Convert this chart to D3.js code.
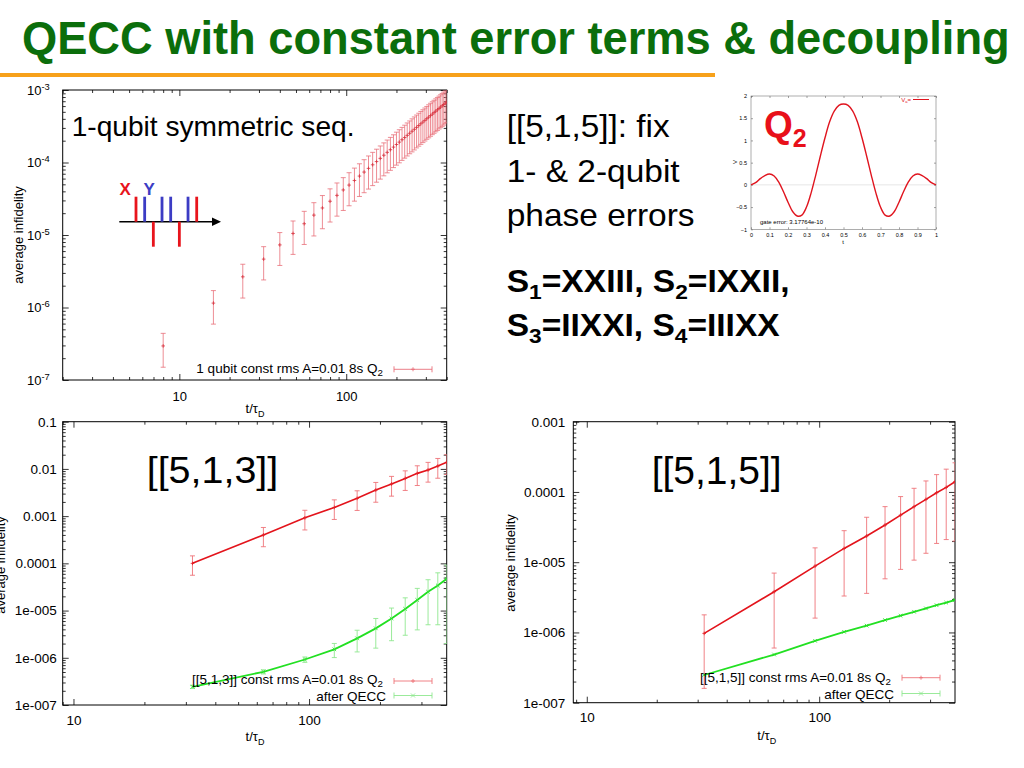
<!DOCTYPE html>
<html><head><meta charset="utf-8">
<script src="https://cdn.jsdelivr.net/npm/d3@7"></script>
<style>
body{margin:0;background:#fff}
svg{display:block}
text{font-family:"Liberation Sans",Arial,Helvetica,sans-serif}
</style>
</head><body>
<svg id="c" width="1024" height="768"></svg>
<script>
// ---------------- DATA ----------------
const titleText = "QECC with constant error terms & decoupling";

// 1-qubit symmetric sequence (top-left)
const tOneQubit = [8,16,24,32,40,48,56,64,72,80,88,96,104,112,120,128,136,144,152,160,168,176,184,192,200,208,216,224,232,240,248,256,264,272,280,288,296,304,312,320,328,336,344,352,360,368,376,384,392,400];
const infOneQubit = [2.95e-7,1.15e-6,2.65e-6,4.65e-6,7.3e-6,1.05e-5,1.43e-5,1.88e-5,2.36e-5,2.92e-5,3.52e-5,4.18e-5,4.88e-5,5.65e-5,6.5e-5,7.38e-5,8.3e-5,9.3e-5,1.03e-4,1.14e-4,1.26e-4,1.38e-4,1.5e-4,1.63e-4,1.77e-4,1.91e-4,2.06e-4,2.21e-4,2.37e-4,2.53e-4,2.7e-4,2.87e-4,3.05e-4,3.23e-4,3.42e-4,3.61e-4,3.81e-4,4.01e-4,4.22e-4,4.43e-4,4.65e-4,4.87e-4,5.1e-4,5.33e-4,5.57e-4,5.81e-4,6.06e-4,6.31e-4,6.57e-4,6.83e-4];
const errOneQubit = [1.45e-7,5.6e-7,1.3e-6,2.25e-6,3.5e-6,5.1e-6,6.9e-6,9.1e-6,1.14e-5,1.41e-5,1.7e-5,2.0e-5,2.35e-5,2.72e-5,3.1e-5,3.55e-5,4.0e-5,4.5e-5,4.95e-5,5.5e-5,6.05e-5,6.6e-5,7.2e-5,7.8e-5,8.5e-5,9.2e-5,9.9e-5,1.06e-4,1.14e-4,1.21e-4,1.3e-4,1.38e-4,1.46e-4,1.55e-4,1.64e-4,1.73e-4,1.83e-4,1.92e-4,2.03e-4,2.13e-4,2.23e-4,2.34e-4,2.45e-4,2.56e-4,2.67e-4,2.79e-4,2.91e-4,3.03e-4,3.15e-4,3.28e-4];

// code times (bottom charts)
const tCode = [32,64,96,128,160,192,224,256,288,320,352,384];
// [[5,1,3]]
const inf513 = [1.0e-4,4.0e-4,9.2e-4,1.53e-3,2.38e-3,3.57e-3,4.8e-3,6.3e-3,8.05e-3,9.5e-3,1.15e-2,1.38e-2];
const err513 = [4.4e-5,1.75e-4,4.1e-4,6.8e-4,1.06e-3,1.6e-3,2.15e-3,2.8e-3,3.6e-3,4.25e-3,5.15e-3,6.2e-3];
const inf513QECC = [2.43e-7,5.05e-7,9.2e-7,1.51e-6,2.58e-6,4.2e-6,6.8e-6,1.08e-5,1.67e-5,2.5e-5,3.4e-5,4.7e-5];
const err513QECC = [2e-8,5e-8,1.2e-7,5e-7,1.25e-6,2.6e-6,4.5e-6,7.8e-6,1.28e-5,2.0e-5,2.9e-5,4.5e-5];
// [[5,1,5]]
const inf515 = [9.7e-7,3.8e-6,8.8e-6,1.57e-5,2.36e-5,3.38e-5,4.69e-5,6.17e-5,7.84e-5,9.75e-5,1.16e-4,1.4e-4];
const err515 = [8.1e-7,3.2e-6,7.2e-6,1.24e-5,2.0e-5,2.8e-5,3.9e-5,5.1e-5,6.5e-5,7.9e-5,9.5e-5,1.2e-4];
const inf515QECC = [2.48e-7,4.85e-7,7.6e-7,1.02e-6,1.25e-6,1.5e-6,1.73e-6,1.97e-6,2.2e-6,2.44e-6,2.66e-6,2.9e-6];

// Q2 pulse shape (inset)
const q2T = [0,0.025,0.05,0.075,0.1,0.125,0.15,0.175,0.2,0.225,0.25,0.275,0.3,0.325,0.35,0.375,0.4,0.425,0.45,0.475,0.5,0.525,0.55,0.575,0.6,0.625,0.65,0.675,0.7,0.725,0.75,0.775,0.8,0.825,0.85,0.875,0.9,0.925,0.95,0.975,1];
const q2V = [0,0.05,0.14,0.21,0.245,0.2,0.06,-0.15,-0.39,-0.6,-0.7,-0.68,-0.5,-0.18,0.22,0.65,1.06,1.42,1.66,1.79,1.82,1.79,1.66,1.42,1.06,0.65,0.22,-0.18,-0.5,-0.68,-0.7,-0.6,-0.39,-0.15,0.06,0.2,0.245,0.21,0.14,0.05,0];
const q2XTicks = [0,0.1,0.2,0.3,0.4,0.5,0.6,0.7,0.8,0.9,1];
const q2YTicks = [-1,-0.5,0,0.5,1,1.5,2];

// decoupling sequence sketch: pulse type and direction
const pulseSeq = [["X",1],["Y",1],["X",-1],["Y",1],["Y",1],["X",-1],["Y",1],["X",1]];

// tick labels
const topYTicks = [1e-7,1e-6,1e-5,1e-4,1e-3];
const topYExp = ["-7","-6","-5","-4","-3"];
const blYTicks = [1e-7,1e-6,1e-5,1e-4,1e-3,1e-2,1e-1];
const blYLabels = ["1e-007","1e-006","1e-005","0.0001","0.001","0.01","0.1"];
const brYTicks = [1e-7,1e-6,1e-5,1e-4,1e-3];
const brYLabels = ["1e-007","1e-006","1e-005","0.0001","0.001"];
const xTickVals = [10,100];
const xTickLabels = ["10","100"];

// ---------------- DRAW ----------------
const svg = d3.select("#c");
svg.append("rect").attr("width",1024).attr("height",768).attr("fill","#fff");
const defs = svg.append("defs");

const RED = "#e3141c", REDERR = "#ee7479", GREEN = "#22e022", GREENERR = "#90e890";

function fitWidth(sel, x0, target) {
  const n = sel.node();
  const w = n.getComputedTextLength();
  const s = target / w;
  sel.attr("transform", `translate(${x0},0) scale(${s},1) translate(${-x0},0)`);
}

// Title
const title = svg.append("text").attr("x",22).attr("y",54).attr("font-size",46)
  .attr("font-weight","bold").attr("fill","#0b6e0b").text(titleText);
fitWidth(title, 22, 988);
svg.append("rect").attr("x",0).attr("y",73).attr("width",715).attr("height",4).attr("fill","#f7a11a");

function minorTicks(domain) {
  const out = [];
  const a = Math.floor(Math.log10(domain[0])), b = Math.ceil(Math.log10(domain[1]));
  for (let n = a; n <= b; n++) for (let k = 2; k <= 9; k++) {
    const v = k * Math.pow(10, n);
    if (v >= domain[0]*0.999 && v <= domain[1]*1.001) out.push(v);
  }
  return out;
}

function logChart(cfg) {
  const g = svg.append("g");
  const x = d3.scaleLog().domain(cfg.xDomain).range([cfg.x0, cfg.x1]);
  const y = d3.scaleLog().domain(cfg.yDomain).range([cfg.y1, cfg.y0]);
  const clipId = "clip" + cfg.id;
  defs.append("clipPath").attr("id", clipId).append("rect")
    .attr("x", cfg.x0).attr("y", cfg.y0).attr("width", cfg.x1 - cfg.x0).attr("height", cfg.y1 - cfg.y0);

  const mx = minorTicks(cfg.xDomain), my = minorTicks(cfg.yDomain);
  const style = s => s.attr("font-family","Liberation Sans, Arial, sans-serif").attr("font-size", cfg.tickFont)
    .call(a => a.select(".domain").remove()).call(a => a.selectAll("line").attr("stroke","#000").attr("stroke-width",0.8));
  // left
  const yMajor = g.append("g").attr("transform",`translate(${cfg.x0},0)`)
    .call(d3.axisLeft(y).tickValues(cfg.yTicks).tickSize(-6).tickPadding(cfg.yPad)
      .tickFormat((d,i) => cfg.yLabels[i])).call(style);
  g.append("g").attr("transform",`translate(${cfg.x0},0)`)
    .call(d3.axisLeft(y).tickValues(my).tickSize(-3).tickFormat("")).call(style);
  // right
  g.append("g").attr("transform",`translate(${cfg.x1},0)`)
    .call(d3.axisRight(y).tickValues(cfg.yTicks).tickSize(-6).tickFormat("")).call(style);
  g.append("g").attr("transform",`translate(${cfg.x1},0)`)
    .call(d3.axisRight(y).tickValues(my).tickSize(-3).tickFormat("")).call(style);
  // bottom
  g.append("g").attr("transform",`translate(0,${cfg.y1})`)
    .call(d3.axisBottom(x).tickValues(xTickVals).tickSize(-6).tickPadding(cfg.xPad)
      .tickFormat((d,i) => xTickLabels[i])).call(style);
  g.append("g").attr("transform",`translate(0,${cfg.y1})`)
    .call(d3.axisBottom(x).tickValues(mx).tickSize(-3).tickFormat("")).call(style);
  // top
  g.append("g").attr("transform",`translate(0,${cfg.y0})`)
    .call(d3.axisTop(x).tickValues(xTickVals).tickSize(-6).tickFormat("")).call(style);
  g.append("g").attr("transform",`translate(0,${cfg.y0})`)
    .call(d3.axisTop(x).tickValues(mx).tickSize(-3).tickFormat("")).call(style);

  if (cfg.supLabels) {
    yMajor.selectAll("g.tick text").each(function(d) {
      const t = d3.select(this); const txt = t.text(); if (!txt) return;
      t.text(null);
      t.append("tspan").text("10");
      t.append("tspan").attr("dy", -5).attr("font-size", cfg.tickFont*0.72).text(txt);
    });
  }

  g.append("rect").attr("x",cfg.x0).attr("y",cfg.y0).attr("width",cfg.x1-cfg.x0).attr("height",cfg.y1-cfg.y0)
    .attr("fill","none").attr("stroke","#000").attr("stroke-width",1);

  // axis titles
  const xl = g.append("text").attr("x", cfg.xLabelX).attr("y", cfg.xLabelY).attr("text-anchor","middle")
    .attr("font-size", 13);
  xl.append("tspan").text("t/τ");
  xl.append("tspan").attr("dy",4).attr("font-size",9).text("D");
  g.append("text").attr("transform",`translate(${cfg.yLabelX},${cfg.yLabelY}) rotate(-90)`)
    .attr("text-anchor","middle").attr("font-size",13).text("average infidelity");

  const cg = g.append("g").attr("clip-path", `url(#${clipId})`);
  const ymin = cfg.yDomain[0] * 0.1;
  cfg.series.forEach(s => {
    const pts = s.t.map((t,i) => ({t, v: s.v[i], e: s.e ? s.e[i] : 0}));
    if (s.line) {
      cg.append("path").datum(pts)
        .attr("d", d3.line().x(d => x(d.t)).y(d => y(d.v)))
        .attr("fill","none").attr("stroke", s.color).attr("stroke-width", s.lw);
    }
    if (s.e) {
      const eb = cg.append("g").attr("stroke", s.errColor).attr("stroke-width", s.ew);
      pts.forEach(d => {
        const lo = Math.max(d.v - d.e, ymin), hi = d.v + d.e;
        const xx = x(d.t);
        eb.append("line").attr("x1",xx).attr("x2",xx).attr("y1",y(lo)).attr("y2",y(hi));
        eb.append("line").attr("x1",xx-2.5).attr("x2",xx+2.5).attr("y1",y(hi)).attr("y2",y(hi));
        if (d.v - d.e > ymin) eb.append("line").attr("x1",xx-2.5).attr("x2",xx+2.5).attr("y1",y(lo)).attr("y2",y(lo));
      });
    }
    const mk = cg.append("g").attr("stroke", s.markColor).attr("stroke-width", 0.8);
    pts.forEach(d => drawMarker(mk, x(d.t), y(d.v), s.marker, 1.8));
  });

  // legend
  cfg.legend.forEach(L => {
    const t = g.append("text").attr("x", L.tx).attr("y", L.ty).attr("text-anchor","end").attr("font-size", cfg.legFont);
    t.append("tspan").text(L.text);
    if (L.sub) {
      t.append("tspan").attr("dy",3).attr("font-size", cfg.legFont*0.72).text(L.sub);
    }
    const lg = g.append("g").attr("stroke", L.color).attr("stroke-width", 0.9);
    lg.append("line").attr("x1",L.x1).attr("x2",L.x2).attr("y1",L.ly).attr("y2",L.ly);
    lg.append("line").attr("x1",L.x1).attr("x2",L.x1).attr("y1",L.ly-3).attr("y2",L.ly+3);
    lg.append("line").attr("x1",L.x2).attr("x2",L.x2).attr("y1",L.ly-3).attr("y2",L.ly+3);
    drawMarker(lg, (L.x1+L.x2)/2, L.ly, L.marker, 2);
  });
  return {g, x, y};
}

function drawMarker(g, cx, cy, type, r) {
  if (type === "x") {
    g.append("line").attr("x1",cx-r).attr("x2",cx+r).attr("y1",cy-r).attr("y2",cy+r);
    g.append("line").attr("x1",cx-r).attr("x2",cx+r).attr("y1",cy+r).attr("y2",cy-r);
  } else {
    g.append("line").attr("x1",cx-r).attr("x2",cx+r).attr("y1",cy).attr("y2",cy);
    g.append("line").attr("x1",cx).attr("x2",cx).attr("y1",cy-r).attr("y2",cy+r);
  }
}

// ---- Top-left chart ----
const tl = logChart({
  id: "tl", x0: 62.7, x1: 446.7, y0: 90, y1: 380,
  xDomain: [2, 400], yDomain: [1e-7, 1e-3],
  yTicks: topYTicks, yLabels: topYExp, supLabels: true,
  tickFont: 13, yPad: 13, xPad: 12,
  xLabelX: 255, xLabelY: 413, yLabelX: 23, yLabelY: 235, legFont: 13.5,
  series: [
    {t: tOneQubit, v: infOneQubit, e: errOneQubit, line: false, errColor: "#e9707a", ew: 0.8, markColor: "#d8303c", marker: "+"}
  ],
  legend: [
    {text: "1 qubit const rms A=0.01 8s Q", sub: "2", tx: 383, ty: 373, x1: 394, x2: 432, ly: 369.3, color: "#e9707a", marker: "+"}
  ]
});
tl.g.append("text").attr("x",71.7).attr("y",136).attr("font-size",28).attr("fill","#000")
  .text("1-qubit symmetric seq.").call(s => fitWidth(s, 71.7, 283));

// decoupling sketch
const ps = d3.scaleLinear().domain([0, pulseSeq.length-1]).range([136, 196.7]);
const sk = tl.g.append("g");
sk.append("line").attr("x1",119.3).attr("x2",214).attr("y1",221.7).attr("y2",221.7).attr("stroke","#000").attr("stroke-width",1.5);
sk.append("path").attr("d","M212,217.5 L221,221.7 L212,225.9 Z").attr("fill","#000");
pulseSeq.forEach((p,i) => {
  const col = p[0] === "X" ? "#e8141c" : "#3c3cc4";
  const xx = ps(i);
  sk.append("rect").attr("x", xx-1.4).attr("width",2.8)
    .attr("y", p[1] > 0 ? 196.7 : 221.7).attr("height", 25).attr("fill", col);
});
sk.append("text").attr("x",119.5).attr("y",194.5).attr("font-size",17).attr("font-weight","bold").attr("fill","#e8141c").text("X");
sk.append("text").attr("x",143.5).attr("y",194.5).attr("font-size",17).attr("font-weight","bold").attr("fill","#3c3cc4").text("Y");

// ---- Bottom-left chart ----
const bl = logChart({
  id: "bl", x0: 62.7, x1: 446.7, y0: 421.7, y1: 705,
  xDomain: [9, 384], yDomain: [1e-7, 0.1],
  yTicks: blYTicks, yLabels: blYLabels, supLabels: false,
  tickFont: 13.5, yPad: 6, xPad: 10,
  xLabelX: 255, xLabelY: 741, yLabelX: 5, yLabelY: 565, legFont: 13.5,
  series: [
    {t: tCode, v: inf513, e: err513, line: true, color: RED, lw: 1.6, errColor: REDERR, ew: 0.9, markColor: RED, marker: "+"},
    {t: tCode, v: inf513QECC, e: err513QECC, line: true, color: GREEN, lw: 1.8, errColor: GREENERR, ew: 0.9, markColor: GREEN, marker: "x"}
  ],
  legend: [
    {text: "[[5,1,3]] const rms A=0.01 8s Q", sub: "2", tx: 383, ty: 683.5, x1: 394, x2: 432, ly: 681, color: REDERR, marker: "+"},
    {text: "after QECC", tx: 386, ty: 700.5, x1: 394, x2: 432, ly: 695.5, color: GREENERR, marker: "x"}
  ]
});
bl.g.append("text").attr("x",146.7).attr("y",483).attr("font-size",37).text("[[5,1,3]]").call(s => fitWidth(s,146.7,131.6));

// ---- Bottom-right chart ----
const br = logChart({
  id: "br", x0: 573.3, x1: 955, y0: 421.7, y1: 702.7,
  xDomain: [8.75, 384], yDomain: [1e-7, 1e-3],
  yTicks: brYTicks, yLabels: brYLabels, supLabels: false,
  tickFont: 13.5, yPad: 8, xPad: 9.5,
  xLabelX: 766.7, xLabelY: 740, yLabelX: 515, yLabelY: 563, legFont: 13.5,
  series: [
    {t: tCode, v: inf515, e: err515, line: true, color: RED, lw: 1.6, errColor: REDERR, ew: 0.9, markColor: RED, marker: "+"},
    {t: tCode, v: inf515QECC, e: null, line: true, color: GREEN, lw: 1.8, markColor: GREEN, marker: "x"}
  ],
  legend: [
    {text: "[[5,1,5]] const rms A=0.01 8s Q", sub: "2", tx: 891, ty: 681.5, x1: 902, x2: 940, ly: 677.7, color: REDERR, marker: "+"},
    {text: "after QECC", tx: 894, ty: 698.5, x1: 902, x2: 940, ly: 693.5, color: GREENERR, marker: "x"}
  ]
});
br.g.append("text").attr("x",651.7).attr("y",484).attr("font-size",38).text("[[5,1,5]]").call(s => fitWidth(s,651.7,130));

// ---- Right text block ----
const regLines = [["[[5,1,5]]: fix",137,163],["1- & 2-qubit",182,173],["phase errors",226,188]];
regLines.forEach(l => {
  svg.append("text").attr("x",506.7).attr("y",l[1]).attr("font-size",31).text(l[0]).call(s => fitWidth(s,506.7,l[2]));
});
const boldLines = [
  {y: 292, w: 283, parts: [["S",0],["1",1],["=XXIII, S",0],["2",1],["=IXXII,",0]]},
  {y: 336, w: 273, parts: [["S",0],["3",1],["=IIXXI, S",0],["4",1],["=IIIXX",0]]}
];
boldLines.forEach(l => {
  const t = svg.append("text").attr("x",506.7).attr("y",l.y).attr("font-size",31).attr("font-weight","bold");
  let prevSub = false;
  l.parts.forEach(p => {
    const ts = t.append("tspan").text(p[0]);
    if (p[1] && !prevSub) ts.attr("dy", 7).attr("font-size", 21);
    if (!p[1] && prevSub) ts.attr("dy", -7);
    prevSub = !!p[1];
  });
  fitWidth(t, 506.7, l.w);
});

// ---- Q2 inset ----
const qx = d3.scaleLinear().domain([0,1]).range([751,936]);
const qy = d3.scaleLinear().domain([-1,2]).range([229.3,96]);
const qg = svg.append("g");
const qfmt = d3.format("~g");
const qStyle = s => s.attr("font-family","Liberation Serif, DejaVu Serif, serif").attr("font-size",5.5)
  .call(a => a.select(".domain").remove()).call(a => a.selectAll("line").attr("stroke","#444").attr("stroke-width",0.5));
qg.append("g").attr("transform","translate(751,0)")
  .call(d3.axisLeft(qy).tickValues(q2YTicks).tickSize(-2).tickPadding(4).tickFormat(qfmt)).call(qStyle);
qg.append("g").attr("transform","translate(936,0)")
  .call(d3.axisRight(qy).tickValues(q2YTicks).tickSize(-2).tickFormat("")).call(qStyle);
qg.append("g").attr("transform","translate(0,229.3)")
  .call(d3.axisBottom(qx).tickValues(q2XTicks).tickSize(-2).tickPadding(4).tickFormat(qfmt)).call(qStyle);
qg.append("g").attr("transform","translate(0,96)")
  .call(d3.axisTop(qx).tickValues(q2XTicks).tickSize(-2).tickFormat("")).call(qStyle);
qg.append("rect").attr("x",751).attr("y",96).attr("width",185).attr("height",133.3)
  .attr("fill","none").attr("stroke","#777").attr("stroke-width",0.6);
qg.append("line").attr("x1",751).attr("x2",936).attr("y1",qy(0)).attr("y2",qy(0)).attr("stroke","#ccc").attr("stroke-width",0.5);
qg.append("path").datum(q2T.map((t,i)=>[t,q2V[i]]))
  .attr("d", d3.line().x(d=>qx(d[0])).y(d=>qy(d[1])).curve(d3.curveCatmullRom))
  .attr("fill","none").attr("stroke","#e0141e").attr("stroke-width",1.4);
qg.append("text").attr("x",843).attr("y",244).attr("text-anchor","middle").attr("font-size",6)
  .attr("font-family","Liberation Serif, serif").text("t");
qg.append("text").attr("transform","translate(737,162) rotate(-90)").attr("text-anchor","middle").attr("font-size",6)
  .attr("font-family","Liberation Serif, serif").text("V");
const qleg = qg.append("text").attr("x",911).attr("y",101.5).attr("text-anchor","end").attr("font-size",6)
  .attr("font-family","Liberation Serif, serif").attr("fill","#e0141e");
qleg.append("tspan").text("V");
qleg.append("tspan").attr("dy",1.5).attr("font-size",4).text("a");
qleg.append("tspan").attr("dy",-1.5).text("=");
qg.append("line").attr("x1",913).attr("x2",929).attr("y1",99.5).attr("y2",99.5).attr("stroke","#e0141e").attr("stroke-width",1);
qg.append("text").attr("x",760).attr("y",223.5).attr("font-size",6).attr("font-family","Liberation Serif, serif")
  .text("gate error: 3.17764e-10");
const q2lab = qg.append("text").attr("x",764).attr("y",137).attr("font-size",37).attr("font-weight","bold").attr("fill","#e8101a");
q2lab.append("tspan").text("Q");
q2lab.append("tspan").attr("dy",10).attr("font-size",25).text("2");
</script>
</body></html>
